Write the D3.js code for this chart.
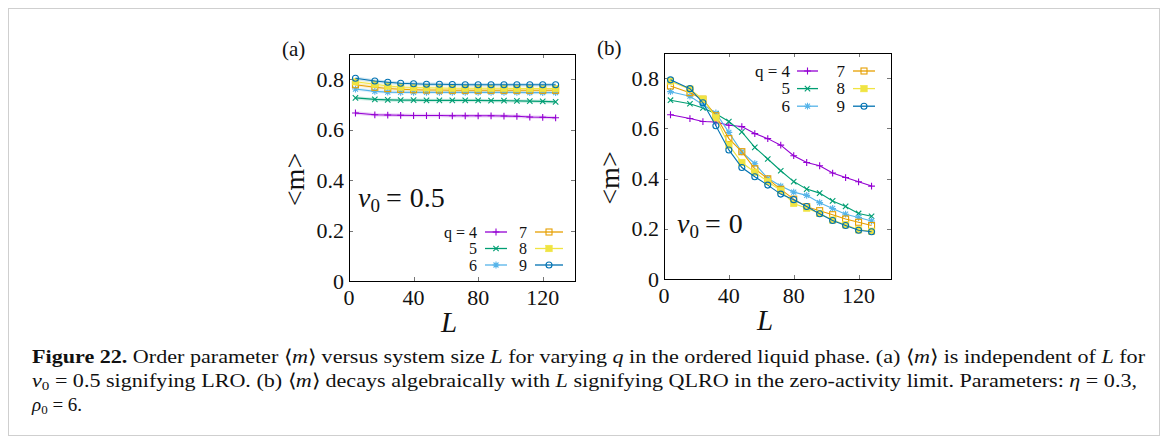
<!DOCTYPE html>
<html><head><meta charset="utf-8">
<script src="https://cdn.jsdelivr.net/npm/d3@7"></script>
<style>
html,body{margin:0;padding:0;background:#fff;}
svg{display:block;}
text{font-family:"Liberation Serif","Times New Roman",serif;fill:#111;}
</style></head>
<body>
<svg id="fig" width="1168" height="444"></svg>
<script>
// ---------------- data ----------------
const sizesL = [4,16,24,32,40,48,56,64,72,80,88,96,104,112,120,128];
const qValues = [4,5,6,7,8,9];
const xTicks = [0,40,80,120];
const yTicks = [0,0.2,0.4,0.6,0.8];
const yTickLabels = ["0","0.2","0.4","0.6","0.8"];

// panel (a): v0 = 0.5
const a_q4 = [0.666,0.659,0.658,0.657,0.656,0.656,0.656,0.655,0.655,0.655,0.655,0.654,0.653,0.650,0.649,0.647];
const a_q5 = [0.726,0.720,0.718,0.717,0.717,0.716,0.716,0.716,0.716,0.716,0.715,0.715,0.714,0.713,0.712,0.710];
const a_q6 = [0.761,0.752,0.749,0.748,0.748,0.748,0.748,0.748,0.748,0.748,0.748,0.748,0.748,0.747,0.747,0.747];
const a_q7 = [0.778,0.768,0.763,0.760,0.758,0.757,0.757,0.756,0.756,0.756,0.756,0.756,0.756,0.756,0.756,0.756];
const a_q8 = [0.790,0.780,0.773,0.769,0.767,0.766,0.765,0.764,0.764,0.764,0.764,0.764,0.763,0.763,0.763,0.763];
const a_q9 = [0.804,0.793,0.788,0.784,0.782,0.780,0.780,0.779,0.778,0.778,0.778,0.778,0.778,0.778,0.778,0.778];

// panel (b): v0 = 0
const b_q4 = [0.654,0.639,0.627,0.625,0.612,0.607,0.579,0.559,0.533,0.491,0.464,0.451,0.422,0.404,0.387,0.370];
const b_q5 = [0.712,0.698,0.681,0.658,0.627,0.586,0.524,0.478,0.431,0.388,0.358,0.342,0.311,0.289,0.261,0.250];
const b_q6 = [0.746,0.728,0.694,0.661,0.584,0.506,0.459,0.401,0.370,0.346,0.333,0.304,0.281,0.258,0.245,0.231];
const b_q7 = [0.769,0.742,0.716,0.650,0.559,0.507,0.439,0.399,0.357,0.318,0.288,0.272,0.256,0.239,0.226,0.213];
const b_q8 = [0.788,0.756,0.716,0.642,0.533,0.464,0.425,0.388,0.352,0.301,0.282,0.261,0.235,0.216,0.196,0.190];
const b_q9 = [0.793,0.758,0.702,0.610,0.514,0.444,0.407,0.374,0.338,0.316,0.289,0.260,0.233,0.213,0.194,0.188];

const seriesColors = ["#9400d3","#009e73","#56b4e9","#e69f00","#f0e442","#0072b2"];
const markerTypes = ["plus","cross","star","square","squareFilled","circle"];

// ---------------- drawing ----------------
const svg = d3.select("#fig");
svg.append("rect").attr("x",0).attr("y",0).attr("width",1168).attr("height",444).attr("fill","#fff");
svg.append("rect").attr("x",8.5).attr("y",8.5).attr("width",1151).attr("height",427)
  .attr("fill","none").attr("stroke","#cfcfcf").attr("stroke-width",1);

function drawMarker(g, type, cx, cy, color){
  const s = 3.4;
  if(type==="plus"){
    g.append("path").attr("d",`M${cx-s},${cy}H${cx+s}M${cx},${cy-s}V${cy+s}`).attr("stroke",color).attr("stroke-width",1.1).attr("fill","none");
  } else if(type==="cross"){
    const t=2.7;
    g.append("path").attr("d",`M${cx-t},${cy-t}L${cx+t},${cy+t}M${cx-t},${cy+t}L${cx+t},${cy-t}`).attr("stroke",color).attr("stroke-width",1.1).attr("fill","none");
  } else if(type==="star"){
    const t=2.5;
    g.append("path").attr("d",`M${cx-s},${cy}H${cx+s}M${cx},${cy-s}V${cy+s}M${cx-t},${cy-t}L${cx+t},${cy+t}M${cx-t},${cy+t}L${cx+t},${cy-t}`).attr("stroke",color).attr("stroke-width",1.1).attr("fill","none");
  } else if(type==="square"){
    g.append("rect").attr("x",cx-3).attr("y",cy-3).attr("width",6).attr("height",6).attr("fill","none").attr("stroke",color).attr("stroke-width",1.1);
  } else if(type==="squareFilled"){
    g.append("rect").attr("x",cx-3.3).attr("y",cy-3.3).attr("width",6.6).attr("height",6.6).attr("fill",color).attr("stroke",color).attr("stroke-width",0.5);
  } else if(type==="circle"){
    g.append("circle").attr("cx",cx).attr("cy",cy).attr("r",3).attr("fill","none").attr("stroke",color).attr("stroke-width",1.1);
  }
}

function panel(cfg){
  const x = d3.scaleLinear().domain([0,140]).range([cfg.left,cfg.right]);
  const y = d3.scaleLinear().domain([0,0.9]).range([cfg.bottom,cfg.top]);
  const g = svg.append("g");

  // ticks (inward, mirrored)
  const tickLen = 4;
  const tg = g.append("g").attr("stroke","#777").attr("stroke-width",1);
  xTicks.forEach(v=>{
    const px = Math.round(x(v))+0.5;
    tg.append("line").attr("x1",px).attr("x2",px).attr("y1",cfg.bottom).attr("y2",cfg.bottom-tickLen);
    tg.append("line").attr("x1",px).attr("x2",px).attr("y1",cfg.top).attr("y2",cfg.top+tickLen);
  });
  yTicks.forEach(v=>{
    const py = Math.round(y(v))+0.5;
    tg.append("line").attr("x1",cfg.left).attr("x2",cfg.left+tickLen).attr("y1",py).attr("y2",py);
    tg.append("line").attr("x1",cfg.right).attr("x2",cfg.right-tickLen).attr("y1",py).attr("y2",py);
  });

  // series
  cfg.data.forEach((vals,i)=>{
    const col = seriesColors[i];
    const pts = sizesL.map((L,j)=>[x(L),y(vals[j])]);
    if(cfg.band){
      g.append("path").attr("d",d3.line()(pts)).attr("fill","none").attr("stroke",col).attr("stroke-opacity",0.18).attr("stroke-width",3.5);
    }
    g.append("path").attr("d",d3.line()(pts)).attr("fill","none").attr("stroke",col).attr("stroke-width",1.1);
    pts.forEach(p=>drawMarker(g,markerTypes[i],p[0],p[1],col));
  });

  // frame
  g.append("rect").attr("x",cfg.left+0.5).attr("y",cfg.top+0.5)
    .attr("width",cfg.right-cfg.left).attr("height",cfg.bottom-cfg.top)
    .attr("fill","none").attr("stroke","#000").attr("stroke-width",1);

  // tick labels
  xTicks.forEach(v=>{
    g.append("text").attr("x",x(v)).attr("y",cfg.bottom+24).attr("text-anchor","middle")
      .attr("font-size",22).text(String(v));
  });
  yTicks.forEach((v,i)=>{
    g.append("text").attr("x",cfg.left-5).attr("y",y(v)+7.5).attr("text-anchor","end")
      .attr("font-size",22).text(yTickLabels[i]);
  });

  // axis labels
  g.append("text").attr("x",cfg.xLabelX).attr("y",cfg.bottom+51).attr("text-anchor","middle")
    .attr("font-size",29).attr("font-style","italic").text("L");
  g.append("text").attr("transform",`translate(${cfg.left-45},${(cfg.top+cfg.bottom)/2+12}) rotate(-90)`)
    .attr("text-anchor","middle").attr("font-size",28).text("<m>");

  // panel tag
  g.append("text").attr("x",cfg.tagX).attr("y",cfg.tagY).attr("font-size",21).text(cfg.tag);

  // v0 annotation
  const t = g.append("text").attr("x",cfg.annX).attr("y",cfg.annY).attr("font-size",28);
  t.append("tspan").attr("font-style","italic").text("v");
  t.append("tspan").attr("font-size",19).attr("dy",5).text("0");
  t.append("tspan").attr("dy",-5).attr("dx",6).text("=");
  t.append("tspan").attr("dx",8).text(cfg.annVal);

  // legend
  const lg = cfg.legend;
  qValues.forEach((q,i)=>{
    const col = Math.floor(i/3), row = i%3;
    const ty = lg.y0 + row*lg.dy;
    const textRight = col===0 ? lg.text1 : lg.text2;
    const lx0 = col===0 ? lg.line1[0] : lg.line2[0];
    const lx1 = col===0 ? lg.line1[1] : lg.line2[1];
    g.append("text").attr("x",textRight).attr("y",ty+5.5).attr("text-anchor","end")
      .attr("font-size",lg.fs).text(i===0 ? "q = 4" : String(q));
    g.append("line").attr("x1",lx0).attr("x2",lx1).attr("y1",ty).attr("y2",ty)
      .attr("stroke",seriesColors[i]).attr("stroke-width",1.3);
    drawMarker(g,markerTypes[i],(lx0+lx1)/2,ty,seriesColors[i]);
  });
}

panel({left:349,right:575,top:54,bottom:281,data:[a_q4,a_q5,a_q6,a_q7,a_q8,a_q9],band:true,
  xLabelX:449,tag:"(a)",tagX:282,tagY:56,annX:358,annY:207,annVal:"0.5",
  legend:{y0:232,dy:16.5,fs:16,text1:477,text2:527,line1:[485,507],line2:[535,563]}});
panel({left:664,right:891,top:53,bottom:279,data:[b_q4,b_q5,b_q6,b_q7,b_q8,b_q9],band:false,
  xLabelX:765,tag:"(b)",tagX:597,tagY:55,annX:677,annY:233,annVal:"0",
  legend:{y0:71,dy:17.6,fs:17,text1:790,text2:845,line1:[797,818],line2:[853,875]}});

// ---------------- caption ----------------
const captionLines = [
  [["Figure 22.","b"],[" Order parameter ⟨",""],["m","i"],["⟩ versus system size ",""],["L","i"],[" for varying ",""],["q","i"],[" in the ordered liquid phase. (a) ⟨",""],["m","i"],["⟩ is independent of ",""],["L","i"],[" for",""]],
  [["v","i"],["0","sub"],[" = 0.5 signifying LRO. (b) ⟨",""],["m","i"],["⟩ decays algebraically with ",""],["L","i"],[" signifying QLRO in the zero-activity limit. Parameters: ",""],["η","i"],[" = 0.3,",""]],
  [["ρ","i"],["0","sub"],[" = 6.",""]]
];
const captionY = [363,387,411];
const captionWidth = [1113,1105,null];
captionLines.forEach((segs,li)=>{
  const t = svg.append("text").attr("x",32).attr("y",captionY[li]).attr("font-size",19);
  if(captionWidth[li]) t.attr("textLength",captionWidth[li]).attr("lengthAdjust","spacingAndGlyphs");
  let sub=false;
  segs.forEach(([s,st])=>{
    const ts = t.append("tspan").text(s);
    if(st==="b") ts.attr("font-weight","bold");
    if(st==="i") ts.attr("font-style","italic");
    if(st==="sub"){ ts.attr("font-size",13).attr("dy",3); sub=true; }
    else if(sub){ ts.attr("dy",-3); sub=false; }
  });
});
</script>
</body></html>
